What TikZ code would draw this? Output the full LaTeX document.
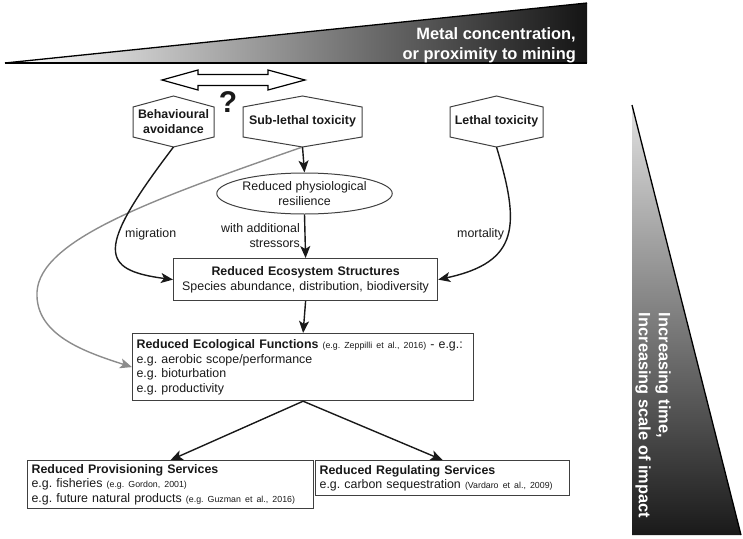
\documentclass[tikz,border=0pt]{standalone}
\usepackage{fontspec}
\setmainfont{Liberation Sans}
\usetikzlibrary{arrows.meta,shapes.geometric,calc}
\frenchspacing
\newcommand\smallcite[1]{{\fontsize{8.8}{14.5}\selectfont #1}}
\newcommand\hexbox[4]{%
  \node[hexlabel] (#1) at (#2,121.5) {#4};
  \draw[hexline] (#2-#3,107) -- (#2,96) -- (#2+#3,107) -- (#2+#3,137) -- (#2,147) -- (#2-#3,137) -- cycle;
  \coordinate (#1-b) at (#2,147);}
\begin{document}
\begin{tikzpicture}[x=1pt,y=-1pt,
  every node/.style={font=\fontsize{12.4}{14.5}\selectfont, text=black!90, inner sep=0pt},
  hexlabel/.style={font=\fontsize{12.4}{14.5}\selectfont\bfseries, align=center},
  hexline/.style={draw=black!75, line width=1pt},
  box/.style={draw=black!75, line width=1.2pt, anchor=north west, inner xsep=4pt, inner ysep=2pt},
  arr/.style={-{Stealth[length=12pt,width=10pt,inset=3pt]}, line width=1.4pt, draw=black!90},
  grayarr/.style={-{Stealth[length=12pt,width=10pt,inset=3pt]}, line width=1.4pt, draw=black!45},
  wedgetext/.style={text=white, font=\fontsize{16.4}{20}\selectfont\bfseries}]
\useasboundingbox (0,0) rectangle (743,538);
% top wedge
\shade[left color=white, right color=black!92] (5,63) -- (587,3) -- (587,63) -- cycle;
\draw[line width=1.3pt, line join=miter] (5,63) -- (587,3);
\draw[line width=1.3pt] (5,63) -- (587,63);
\node[wedgetext, anchor=north east, align=right] (metal) at (576,27) {Metal concentration,\\or proximity to mining};
% right wedge
\shade[top color=black!12, bottom color=black!90] (632,105) -- (741,535) -- (632,535) -- cycle;
\draw[line width=1.3pt] (632,105) -- (741,535);
\node[wedgetext, rotate=-90, anchor=center, align=left] (time) at (653,415.5) {Increasing time,\\Increasing scale of impact};
% double arrow and question mark
\draw[line width=1.2pt, fill=white, line join=miter] (162,80) -- (198,70) -- (198,74.5) -- (268,74.5) -- (268,70) -- (305,80) -- (268,90) -- (268,85.5) -- (198,85.5) -- (198,90) -- cycle;
\node[font=\fontsize{30}{30}\selectfont\bfseries] (q) at (228,102) {?};
% hexagons
\hexbox{beh}{173.5}{40.5}{Behavioural\\avoidance}
\hexbox{sub}{302.5}{59.5}{Sub-lethal toxicity}
\hexbox{let}{496.5}{46.5}{Lethal toxicity}
% ellipse
\node[draw=black!75, line width=1pt, ellipse, minimum width=147pt, minimum height=41pt, align=center] (ell) at (304.5,193.5) {Reduced physiological\\resilience};
% boxes
\node[box, align=center, text width=256pt, minimum height=42pt] (eco) at (173,258) {\textbf{Reduced Ecosystem Structures}\\Species abundance, distribution, biodiversity};
\node[box, align=left, text width=333pt, minimum height=67pt] (fun) at (132,333) {\textbf{Reduced Ecological Functions} \smallcite{(e.g. Zeppilli et al., 2016)} - e.g.:\\e.g. aerobic scope/performance\\e.g. bioturbation\\e.g. productivity};
\node[box, align=left, text width=278pt, minimum height=48pt] (prov) at (27,460) {\textbf{Reduced Provisioning Services}\\e.g. fisheries \smallcite{(e.g. Gordon, 2001)}\\e.g. future natural products \smallcite{(e.g. Guzman et al., 2016)}};
\node[box, align=left, text width=246pt, minimum height=35pt] (reg) at (315,460) {\textbf{Reduced Regulating Services}\\e.g. carbon sequestration \smallcite{(Vardaro et al., 2009)}};
% labels
\node[anchor=west] (mig) at (125,234) {migration};
\node[anchor=west] (mort) at (457,234) {mortality};
\node[anchor=east, align=right] (stress) at (300,235.5) {with additional\\stressors};
% connectors
\draw[grayarr] (sub-b) .. controls (150,200) and (40,240) .. (37,292) .. controls (35,335) and (85,352) .. (fun.west);
\draw[arr] (sub-b) -- (ell.north);
\draw[arr] (ell.south) -- (eco.north);
\draw[arr] (beh-b) .. controls (95,250) and (100,270) .. (eco.west);
\draw[arr] (let-b) .. controls (520,225) and (520,262) .. (eco.east);
\draw[arr] (eco.south) -- (fun.north);
\draw[arr] (fun.south) -- (prov.north);
\draw[arr] (fun.south) -- (reg.north);
\end{tikzpicture}
\end{document}
